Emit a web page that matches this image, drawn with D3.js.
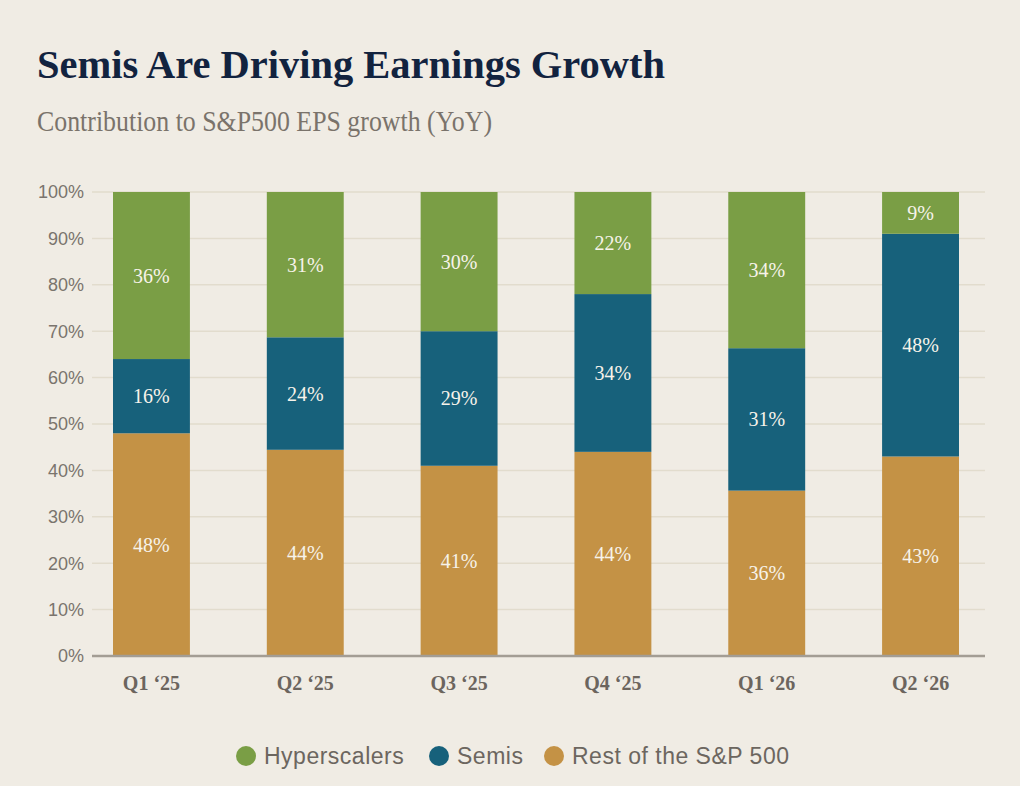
<!DOCTYPE html>
<html>
<head>
<meta charset="utf-8">
<script src="https://cdn.jsdelivr.net/npm/d3@7"></script>
<style>
  html, body { margin: 0; padding: 0; background: #f0ece4; }
  svg { display: block; }
</style>
</head>
<body>
<svg id="chart"></svg>
<script>
// --- DATA ---
const quarters = ["Q1 \u201825", "Q2 \u201825", "Q3 \u201825", "Q4 \u201825", "Q1 \u201826", "Q2 \u201826"];
const restValues = [48, 44, 41, 44, 36, 43];
const semisValues = [16, 24, 29, 34, 31, 48];
const hyperValues = [36, 31, 30, 22, 34, 9];
const seriesNames = ["Rest of the S&P 500", "Semis", "Hyperscalers"];
const seriesColors = ["#c49245", "#17617b", "#7a9e45"];
const legendOrder = ["Hyperscalers", "Semis", "Rest of the S&P 500"];
const yTicks = [0, 0.1, 0.2, 0.3, 0.4, 0.5, 0.6, 0.7, 0.8, 0.9, 1];

(function() {
    // --- 1. SETUP ---
    const width = 1020, height = 786;
    const svg = d3.select("#chart").attr("width", width).attr("height", height);

    svg.append("rect").attr("width", width).attr("height", height).attr("fill", "#f0ece4");

    const rows = quarters.map((q, i) => ({
        quarter: q,
        "Rest of the S&P 500": restValues[i],
        "Semis": semisValues[i],
        "Hyperscalers": hyperValues[i]
    }));

    const color = d3.scaleOrdinal().domain(seriesNames).range(seriesColors);

    // --- 2. TITLES ---
    svg.append("text")
        .attr("x", 37).attr("y", 78)
        .attr("font-family", "'Liberation Serif', 'DejaVu Serif', serif")
        .attr("font-weight", "bold")
        .attr("font-size", 41)
        .attr("fill", "#12233f")
        .attr("textLength", 628)
        .attr("lengthAdjust", "spacingAndGlyphs")
        .text("Semis Are Driving Earnings Growth");

    svg.append("text")
        .attr("x", 37).attr("y", 131)
        .attr("font-family", "'Liberation Serif', 'DejaVu Serif', serif")
        .attr("font-size", 29)
        .attr("fill", "#7a736b")
        .attr("textLength", 455)
        .attr("lengthAdjust", "spacingAndGlyphs")
        .text("Contribution to S&P500 EPS growth (YoY)");

    // --- 3. SCALES ---
    const plotLeft = 92, plotRight = 985;
    const y = d3.scaleLinear().domain([0, 1]).range([656, 192]);
    const x = d3.scaleBand().domain(quarters).range([113, 959])
        .paddingInner(0.5).paddingOuter(0);

    // gridlines
    svg.append("g")
        .selectAll("line")
        .data(yTicks.filter(t => t > 0))
        .join("line")
        .attr("x1", plotLeft).attr("x2", plotRight)
        .attr("y1", d => y(d)).attr("y2", d => y(d))
        .attr("stroke", "#e2dccd")
        .attr("stroke-width", 1.5);

    // y tick labels
    svg.append("g")
        .selectAll("text")
        .data(yTicks)
        .join("text")
        .attr("x", 84)
        .attr("y", d => y(d))
        .attr("dy", "0.35em")
        .attr("text-anchor", "end")
        .attr("font-family", "'Liberation Sans', Arial, sans-serif")
        .attr("font-size", 18)
        .attr("fill", "#7a746d")
        .text(d3.format(".0%"));

    // --- 4. STACKED BARS ---
    const stacked = d3.stack().keys(seriesNames).offset(d3.stackOffsetExpand)(rows);

    const layers = svg.append("g")
        .selectAll("g")
        .data(stacked)
        .join("g")
        .attr("fill", d => color(d.key));

    layers.selectAll("rect")
        .data(d => d)
        .join("rect")
        .attr("x", d => x(d.data.quarter))
        .attr("y", d => y(d[1]))
        .attr("width", x.bandwidth())
        .attr("height", d => y(d[0]) - y(d[1]));

    // value labels
    const labels = svg.append("g");
    stacked.forEach(layer => {
        layer.forEach(d => {
            labels.append("text")
                .attr("x", x(d.data.quarter) + x.bandwidth() / 2)
                .attr("y", (y(d[0]) + y(d[1])) / 2)
                .attr("dy", "0.35em")
                .attr("text-anchor", "middle")
                .attr("font-family", "'Liberation Serif', 'DejaVu Serif', serif")
                .attr("font-size", 20)
                .attr("fill", "#f7f3ea")
                .text(d.data[layer.key] + "%");
        });
    });

    // baseline
    svg.append("line")
        .attr("x1", plotLeft).attr("x2", plotRight)
        .attr("y1", y(0)).attr("y2", y(0))
        .attr("stroke", "#a39d94")
        .attr("stroke-width", 2.5);

    // x axis labels
    svg.append("g")
        .selectAll("text")
        .data(quarters)
        .join("text")
        .attr("x", d => x(d) + x.bandwidth() / 2)
        .attr("y", 690)
        .attr("text-anchor", "middle")
        .attr("font-family", "'Liberation Serif', 'DejaVu Serif', serif")
        .attr("font-weight", "bold")
        .attr("font-size", 20)
        .attr("fill", "#6c655e")
        .text(d => d);

    // --- 5. LEGEND ---
    const legendX = [246, 439, 554];
    const legend = svg.append("g");
    legendOrder.forEach((name, i) => {
        legend.append("circle")
            .attr("cx", legendX[i]).attr("cy", 756)
            .attr("r", 10)
            .attr("fill", color(name));
        legend.append("text")
            .attr("x", legendX[i] + 18).attr("y", 756)
            .attr("dy", "0.35em")
            .attr("font-family", "'Liberation Sans', Arial, sans-serif")
            .attr("font-size", 23)
            .attr("letter-spacing", 0.5)
            .attr("fill", "#6c665f")
            .text(name);
    });
})();
</script>
</body>
</html>
